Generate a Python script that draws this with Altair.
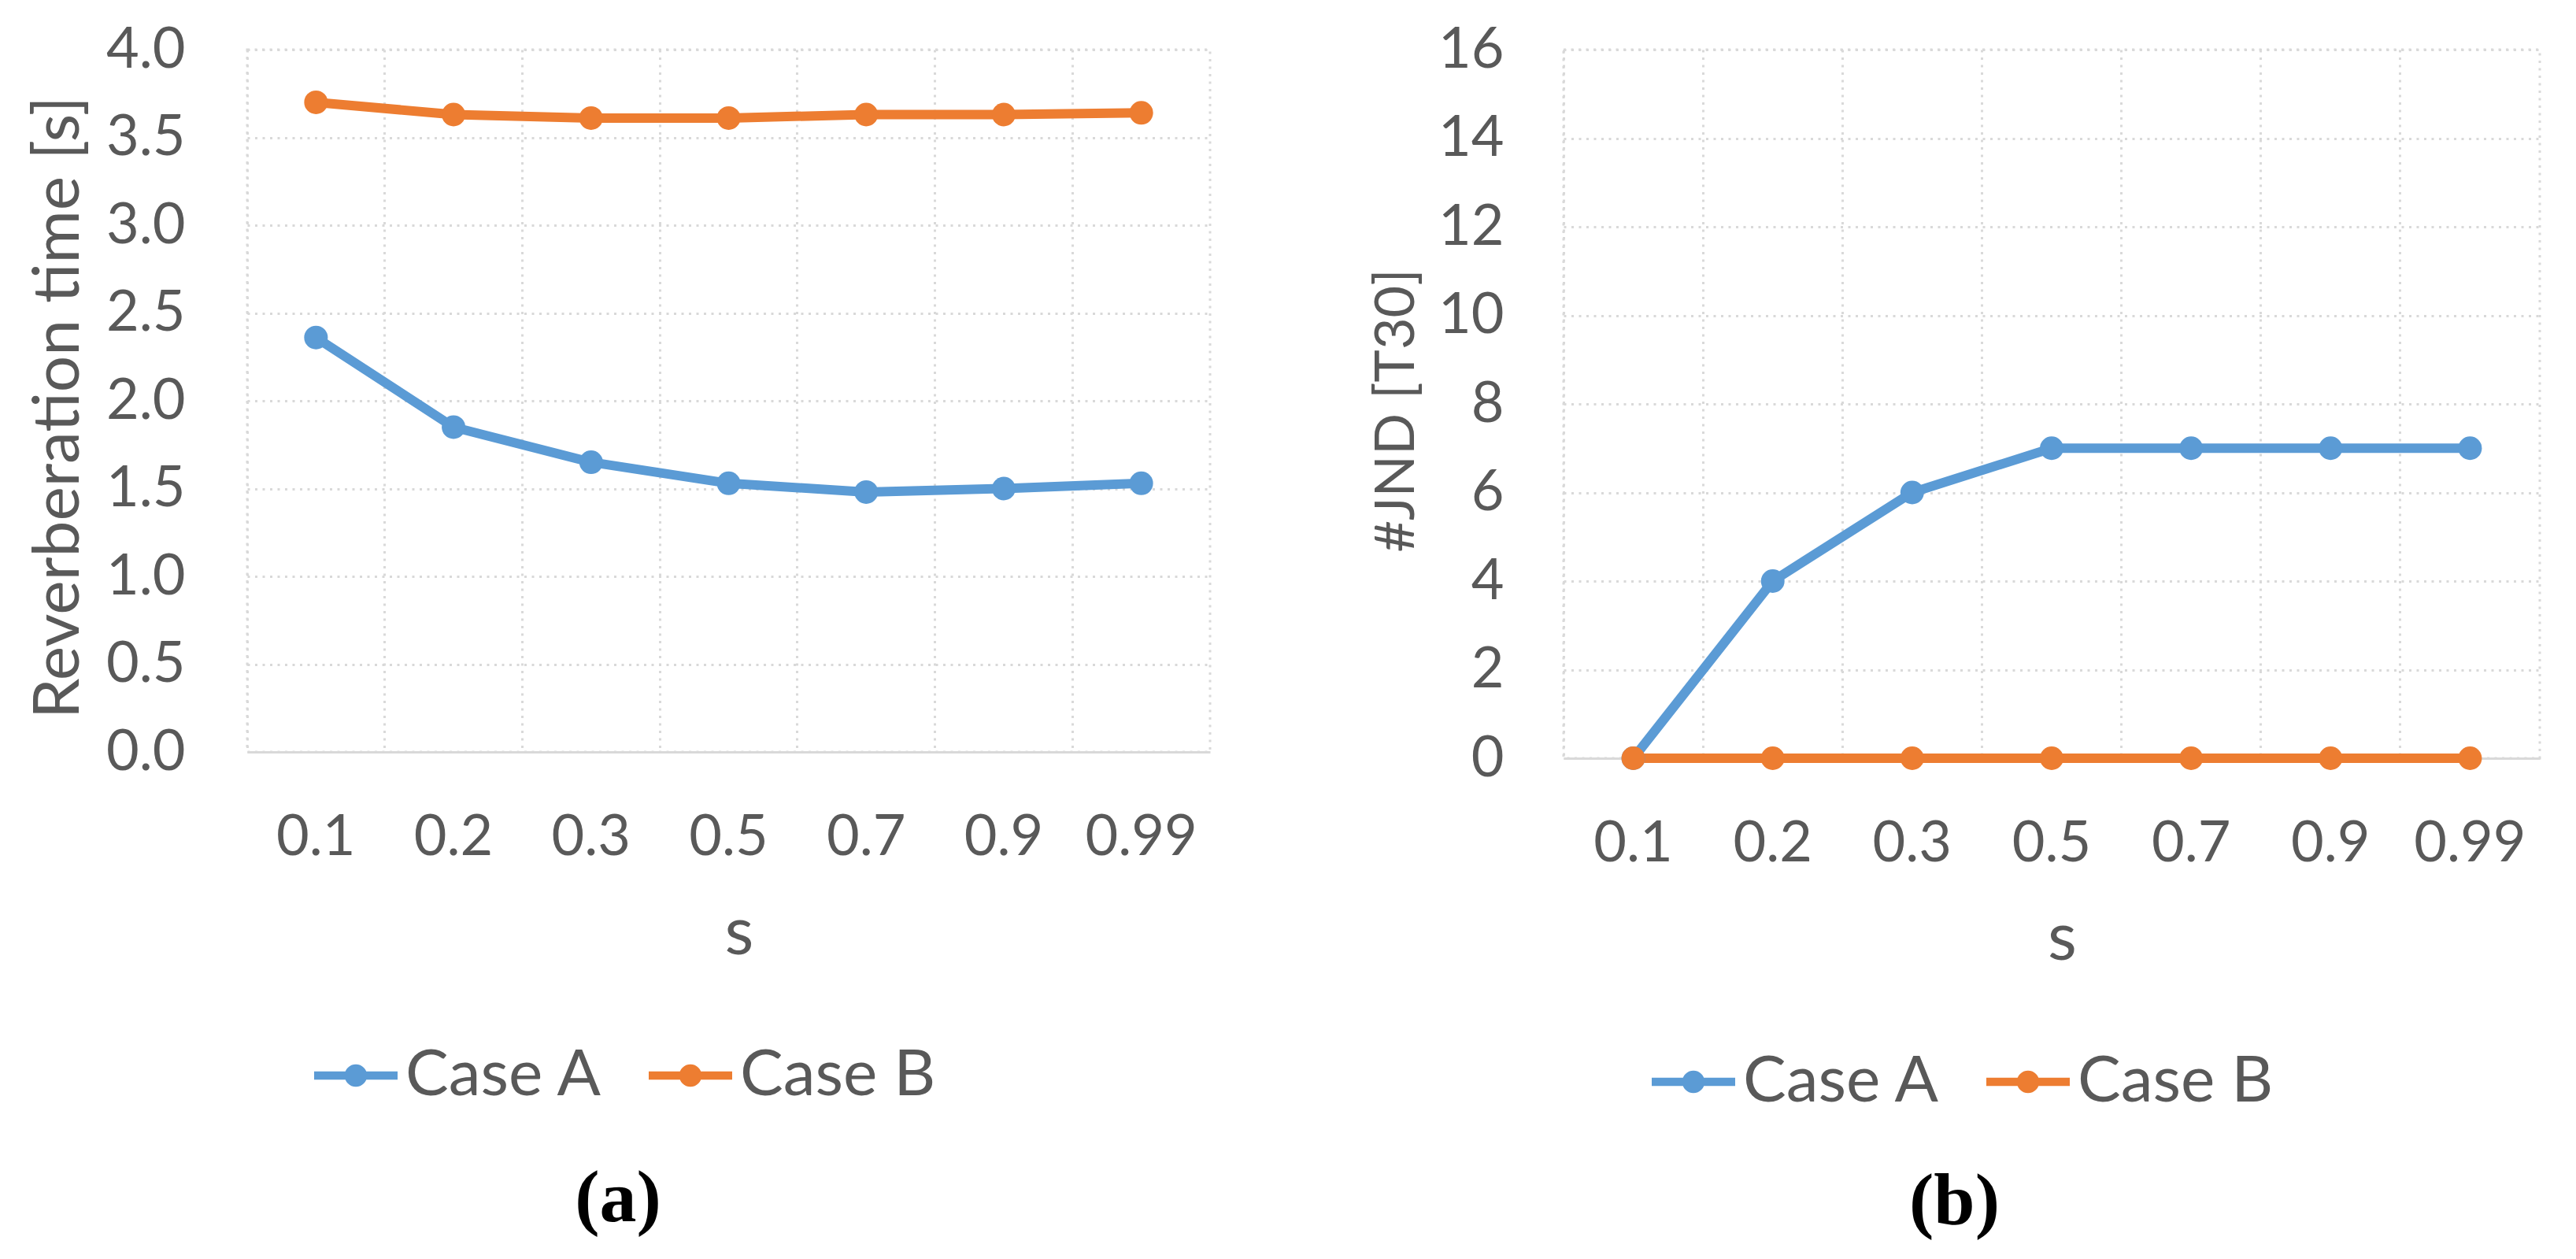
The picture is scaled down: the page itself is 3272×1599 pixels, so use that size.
import altair as alt
import pandas as pd

# ---- data ----
s_values = ["0.1", "0.2", "0.3", "0.5", "0.7", "0.9", "0.99"]
case_names = ["Case A", "Case B"]
case_colors = ["#5B9BD5", "#ED7D31"]

rt_case_a = [2.36, 1.85, 1.65, 1.53, 1.48, 1.50, 1.53]
rt_case_b = [3.70, 3.63, 3.61, 3.61, 3.63, 3.63, 3.64]

jnd_case_a = [0, 4, 6, 7, 7, 7, 7]
jnd_case_b = [0, 0, 0, 0, 0, 0, 0]

rt_ticks = [0.0, 0.5, 1.0, 1.5, 2.0, 2.5, 3.0, 3.5, 4.0]
jnd_ticks = [0, 2, 4, 6, 8, 10, 12, 14, 16]

FONT = "Lato"
TXT = "#595959"
GRID = "#D9D9D9"

LEGEND_SHAPE = ("M-1,-0.1L1,-0.1L1,0.1L-1,0.1Z "
                "M0.27,0A0.27,0.27 0 1,1 -0.27,0A0.27,0.27 0 1,1 0.27,0Z")


def long_frame(a_vals, b_vals):
    rows = []
    for name, vals in zip(case_names, [a_vals, b_vals]):
        for s, v in zip(s_values, vals):
            rows.append({"s": s, "case": name, "value": v})
    return pd.DataFrame(rows)


def panel(df, ytitle, yticks, yfmt, width, height, ytitle_x, ytitle_size,
          ylabel_pad, xtitle_y, legend_x, legend_y, caption, caption_offset):
    x_enc = alt.X(
        "s:O",
        sort=s_values,
        scale=alt.Scale(type="band", paddingInner=0, paddingOuter=0),
        axis=alt.Axis(
            title="s",
            labelAngle=0,
            bandPosition=0,
            grid=True,
            ticks=False,
            tickSize=0,
            labelBaseline="alphabetic",
            labelPadding=130,
            titleBaseline="alphabetic",
            titleY=xtitle_y,
            titleX=width / 2 + 13,
        ),
    )
    y_enc = alt.Y(
        "value:Q",
        scale=alt.Scale(domain=[yticks[0], yticks[-1]], nice=False, zero=True),
        axis=alt.Axis(
            title=ytitle,
            values=yticks,
            format=yfmt,
            grid=True,
            ticks=False,
            tickSize=0,
            domain=False,
            labelPadding=ylabel_pad,
            titleFontSize=ytitle_size,
            titleBaseline="alphabetic",
            titleAlign="center",
            titleAngle=270,
            titleX=ytitle_x,
            titleY=height / 2 + 8,
        ),
    )
    legend = alt.Legend(
        title=None,
        orient="none",
        direction="horizontal",
        legendX=legend_x,
        legendY=legend_y,
        symbolType=LEGEND_SHAPE,
        symbolSize=11236,
        symbolStrokeWidth=0,
        symbolOpacity=1,
        labelFont=FONT,
        labelFontSize=82,
        labelColor=TXT,
        labelLimit=2000,
        labelOffset=10,
        columnPadding=58,
        padding=0,
    )
    color_scale = alt.Scale(domain=case_names, range=case_colors)
    base = alt.Chart(df)
    lines = base.mark_line(strokeWidth=12).encode(
        x=x_enc, y=y_enc,
        color=alt.Color("case:N", scale=color_scale, legend=legend),
    )
    points = base.mark_point(filled=True, size=900, opacity=1).encode(
        x=x_enc, y=y_enc,
        color=alt.Color("case:N", scale=color_scale, legend=legend),
    )
    return alt.layer(lines, points).properties(
        width=width,
        height=height,
        title=alt.TitleParams(
            caption,
            orient="bottom",
            anchor="middle",
            frame="bounds",
            font="Liberation Serif",
            fontSize=94,
            fontWeight="bold",
            color="black",
            offset=caption_offset,
        ),
    )


left = panel(long_frame(rt_case_a, rt_case_b), "Reverberation time [s]",
             rt_ticks, ".1f", 1223, 892, -215, 82, 79, 256, 85, 1250,
             "(a)", 70)
right = panel(long_frame(jnd_case_a, jnd_case_b), "#JND [T30]",
              jnd_ticks, "d", 1240, 900, -191, 70, 76, 255, 112, 1258,
              "(b)", 66)

chart = (
    alt.hconcat(left, right, spacing=198)
    .resolve_scale(color="independent")
    .resolve_legend(color="independent")
    .properties(padding={"top": 17, "left": 23, "right": 0, "bottom": 0},
                background="white")
    .configure_view(stroke=GRID, strokeWidth=3, strokeDash=[3, 6.5])
    .configure_axis(
        labelFont=FONT,
        labelFontSize=72,
        labelColor=TXT,
        titleFont=FONT,
        titleColor=TXT,
        titleFontWeight="normal",
        gridColor=GRID,
        gridWidth=3,
        gridDash=[3, 6.5],
        domainColor=GRID,
        domainWidth=3,
    )
    .configure_axisX(titleFontSize=85)
)

chart.save("out.html", embed_options={"renderer": "svg", "actions": False})
